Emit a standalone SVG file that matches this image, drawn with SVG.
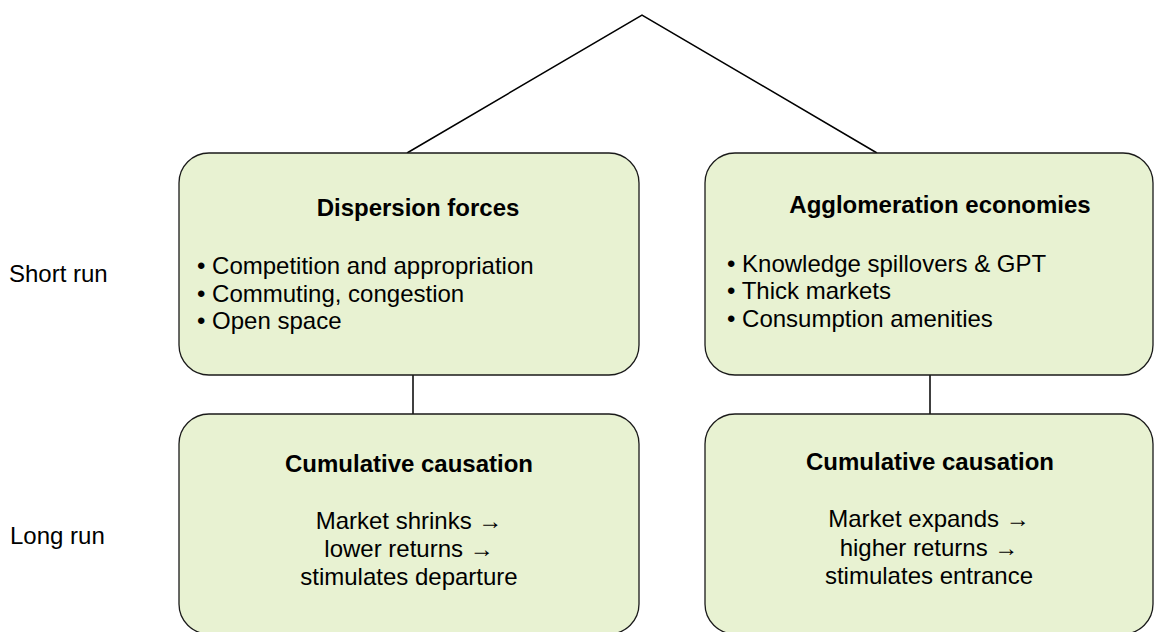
<svg xmlns="http://www.w3.org/2000/svg" width="1156" height="632" viewBox="0 0 1156 632">
  <style>
    .box { fill: #e8f2d2; stroke: #1a1a1a; stroke-width: 1.3; }
    .link { fill: none; stroke: #000; stroke-width: 1.5; }
    text { font-family: "Liberation Sans", Arial, Helvetica, sans-serif; font-size: 24px; fill: #000; }
    .title { font-weight: bold; text-anchor: middle; }
    .mid { text-anchor: middle; }
  </style>

  <!-- tree connectors -->
  <g id="connectors">
    <polyline class="link" points="407,153 642,15 877,153"/>
    <line class="link" x1="413" y1="375" x2="413" y2="414"/>
    <line class="link" x1="930" y1="375" x2="930" y2="414"/>
  </g>

  <!-- row labels -->
  <g id="row-labels">
    <text x="9" y="282">Short run</text>
    <text x="10" y="544">Long run</text>
  </g>

  <g id="dispersion-forces">
    <rect class="box" x="179" y="153" width="460" height="222" rx="30" ry="30"/>
    <text class="title" x="418" y="216">Dispersion forces</text>
    <text x="197" y="274">• Competition and appropriation</text>
    <text x="197" y="302">• Commuting, congestion</text>
    <text x="197" y="329">• Open space</text>
  </g>

  <g id="agglomeration-economies">
    <rect class="box" x="705" y="153" width="448" height="222" rx="30" ry="30"/>
    <text class="title" x="940" y="213">Agglomeration economies</text>
    <text x="727" y="272">• Knowledge spillovers &amp; GPT</text>
    <text x="727" y="299">• Thick markets</text>
    <text x="727" y="327">• Consumption amenities</text>
  </g>

  <g id="cumulative-causation-left">
    <rect class="box" x="179" y="414" width="460" height="220" rx="30" ry="30"/>
    <text class="title" x="409" y="472">Cumulative causation</text>
    <text class="mid" x="409" y="529">Market shrinks →</text>
    <text class="mid" x="409" y="557">lower returns →</text>
    <text class="mid" x="409" y="585">stimulates departure</text>
  </g>

  <g id="cumulative-causation-right">
    <rect class="box" x="705" y="414" width="448" height="220" rx="30" ry="30"/>
    <text class="title" x="930" y="470">Cumulative causation</text>
    <text class="mid" x="929" y="527">Market expands →</text>
    <text class="mid" x="929" y="556">higher returns →</text>
    <text class="mid" x="929" y="584">stimulates entrance</text>
  </g>
</svg>
